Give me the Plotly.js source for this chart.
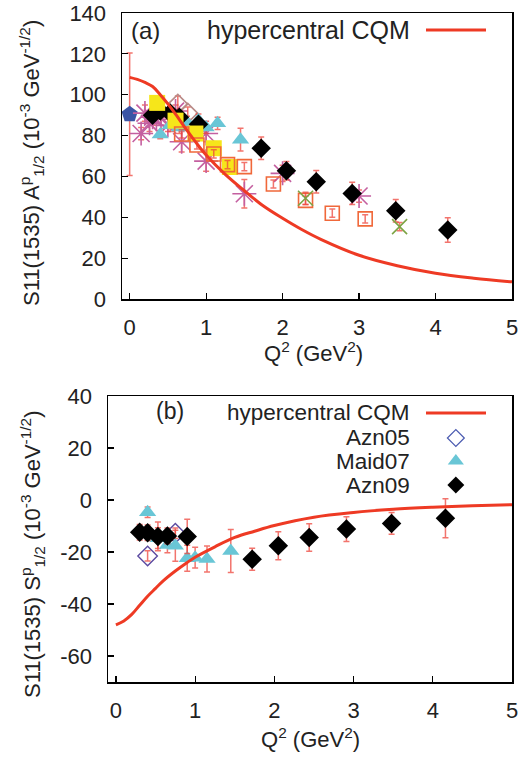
<!DOCTYPE html>
<html>
<head>
<meta charset="utf-8">
<script src="https://cdn.plot.ly/plotly-3.0.1.min.js"></script>
<style>
html,body{margin:0;padding:0;background:#fff;}
#chart{width:522px;height:757px;}
</style>
</head>
<body>
<div id="chart"></div>
<script>
// ---------- Panel (a): A_1/2 ----------
const cqmA_x = [0, 0.1, 0.2, 0.3, 0.4, 0.5, 0.6, 0.75, 0.9, 1.0, 1.25, 1.5, 1.75, 2.0, 2.25, 2.5, 3.0, 3.5, 4.0, 4.5, 5.0];
const cqmA_y = [108.5, 107.5, 106, 104, 100, 95.5, 90.5, 82.5, 75, 70.5, 61, 53, 45.5, 39.5, 34, 29.2, 21.4, 16.3, 12.6, 10.2, 8.4];

const pdgA_x = [0];
const pdgA_y = [90.4];
const pdgA_e = [30];

const starA_x = [0.15, 0.2, 0.26, 0.3, 0.35, 0.41, 0.5, 0.6, 0.68, 1.0, 1.0, 1.5, 2.0, 3.0];
const starA_y = [81, 91, 86, 89, 88, 89, 85, 92, 77, 81, 67.5, 51.5, 61.5, 50.4];
const starA_e = [3, 4, 4, 3, 3, 4, 3, 3, 5, 4, 5, 7, 4, 3];

const azn05A_x = [0.63, 0.76];
const azn05A_y = [95.4, 91];
const azn05A_e = [4, 3];

const maid07A_x = [0.4, 0.53, 0.65, 0.75, 0.9, 1.0, 1.15, 1.45];
const maid07A_y = [80.5, 85, 84, 86.5, 87.5, 84, 86, 78];
const maid07A_e = [2, 3, 3, 3, 3, 3, 3, 5.6];

const azn09A_x = [0.3, 0.4, 0.53, 0.65, 0.9, 1.72, 2.05, 2.44, 2.91, 3.48, 4.16];
const azn09A_y = [90, 92, 91, 89, 85.5, 73.8, 62.8, 57.4, 51.7, 43.2, 33.8];
const azn09A_e = [3, 3, 3, 3, 3, 5.5, 4.5, 5.5, 5.5, 5.5, 6];

const yellowA_x = [0.36, 0.6, 0.86, 1.1, 1.31];
const yellowA_y = [96, 87.3, 81, 73.8, 64.6];

const orangeA_x = [0.68, 0.88, 1.1, 1.28, 1.5, 1.88, 2.3, 2.65, 3.08];
const orangeA_y = [80.8, 75.4, 71, 65.8, 64.8, 56.3, 48.3, 42, 39.2];
const orangeA_e = [2, 2, 2, 2, 2, 2, 2, 2, 2];

const greenA_x = [2.3, 3.53];
const greenA_y = [49.3, 35.4];
const greenA_e = [3, 2];

// ---------- Panel (b): S_1/2 ----------
const cqmS_x = [0, 0.1, 0.2, 0.3, 0.4, 0.5, 0.6, 0.75, 0.9, 1.0, 1.25, 1.5, 1.75, 2.0, 2.5, 3.0, 3.5, 4.0, 4.5, 5.0];
const cqmS_y = [-48, -46.5, -44, -40.5, -37, -34, -31, -27.3, -24, -22, -18, -14.4, -12, -9.8, -6.6, -4.8, -3.6, -2.8, -2.2, -1.8];

const azn05S_x = [0.4, 0.75];
const azn05S_y = [-21.5, -12.8];
const azn05S_e = [2, 2];

const maid07S_x = [0.4, 0.53, 0.65, 0.75, 0.9, 1.0, 1.15, 1.45];
const maid07S_y = [-4.7, -14.7, -17.3, -17.6, -22.4, -22.2, -22.7, -19.6];
const maid07S_e = [2, 4, 3, 6, 5, 4, 5, 8.3];

const azn09S_x = [0.3, 0.4, 0.53, 0.65, 0.9, 1.72, 2.05, 2.44, 2.91, 3.48, 4.16];
const azn09S_y = [-12.4, -12.6, -14, -13.8, -14, -22.8, -17.6, -14.4, -11.2, -9, -7];
const azn09S_e = [3, 3, 5.5, 3, 6.6, 4.2, 5.4, 5.3, 4.8, 4.2, 7.5];

// ---------- ticks & labels ----------
const xTicks = [0, 1, 2, 3, 4, 5];
const xTickText = ['0', '1', '2', '3', '4', '5'];
const yTicksA = [0, 20, 40, 60, 80, 100, 120, 140];
const yTickTextA = ['0', '20', '40', '60', '80', '100', '120', '140'];
const yTicksS = [-60, -40, -20, 0, 20, 40];
const yTickTextS = ['-60', '-40', '-20', '0', '20', '40'];
const legendNamesB = ['Azn05', 'Maid07', 'Azn09'];
const cqmName = 'hypercentral CQM';

// ---------- style ----------
const FONT = 'Liberation Sans, Arial, Helvetica, sans-serif';
const TXT = '#222';
const ERR = 'rgba(238,70,60,0.75)';
const RED = '#ee3a24';
const W = 522, H = 757;

function err(arr) {
  return {type: 'data', array: arr, visible: true, color: ERR, thickness: 1.5, width: 3};
}
function pts(x, y, e, marker, xa, ya) {
  const t = {x: x, y: y, type: 'scatter', mode: 'markers', marker: marker, showlegend: false,
             xaxis: xa, yaxis: ya, hoverinfo: 'skip'};
  if (e) t.error_y = err(e);
  return t;
}

const traces = [
  // panel (a)
  pts(pdgA_x, pdgA_y, pdgA_e, {symbol: 'pentagon', size: 17, color: '#3b54a5'}, 'x', 'y'),
  pts(starA_x, starA_y, starA_e, {symbol: 'asterisk-open', size: 20, color: '#c45fa0', line: {color: '#c45fa0', width: 1.6}}, 'x', 'y'),
  pts(azn05A_x, azn05A_y, azn05A_e, {symbol: 'diamond-open', size: 15, color: '#b98b88', line: {color: '#b98b88', width: 1.6}}, 'x', 'y'),
  pts(maid07A_x, maid07A_y, maid07A_e, {symbol: 'triangle-up', size: 15, color: '#69c6d6'}, 'x', 'y'),
  pts(azn09A_x, azn09A_y, azn09A_e, {symbol: 'diamond', size: 15, color: '#000'}, 'x', 'y'),
  pts(yellowA_x, yellowA_y, null, {symbol: 'square', size: 16, color: '#f6e61a'}, 'x', 'y'),
  pts(orangeA_x, orangeA_y, orangeA_e, {symbol: 'square-open', size: 14, color: '#f0683a', line: {color: '#f0683a', width: 1.6}}, 'x', 'y'),
  pts(greenA_x, greenA_y, greenA_e, {symbol: 'x-thin-open', size: 15, color: '#7ca444', line: {color: '#7ca444', width: 1.6}}, 'x', 'y'),
  {x: cqmA_x, y: cqmA_y, type: 'scatter', mode: 'lines', line: {color: RED, width: 3, shape: 'spline'},
   showlegend: false, xaxis: 'x', yaxis: 'y', hoverinfo: 'skip'},
  // panel (b)
  pts(azn05S_x, azn05S_y, azn05S_e, {symbol: 'diamond-open', size: 15, color: '#5b4aa0', line: {color: '#5b4aa0', width: 1.4}}, 'x2', 'y2'),
  pts(maid07S_x, maid07S_y, maid07S_e, {symbol: 'triangle-up', size: 15, color: '#69c6d6'}, 'x2', 'y2'),
  pts(azn09S_x, azn09S_y, azn09S_e, {symbol: 'diamond', size: 15, color: '#000'}, 'x2', 'y2'),
  {x: cqmS_x, y: cqmS_y, type: 'scatter', mode: 'lines', line: {color: RED, width: 3, shape: 'spline'},
   showlegend: false, xaxis: 'x2', yaxis: 'y2', hoverinfo: 'skip'},
  // legend samples of panel (b), drawn on a hidden [0,1] key axis
  {x: [0.861], y: [0.853], type: 'scatter', mode: 'markers',
   marker: {symbol: 'diamond-open', size: 13, color: '#4a5ab0', line: {color: '#4a5ab0', width: 1.2}},
   showlegend: false, xaxis: 'x3', yaxis: 'y3', hoverinfo: 'skip'},
  {x: [0.861], y: [0.773], type: 'scatter', mode: 'markers',
   marker: {symbol: 'triangle-up', size: 14, color: '#69c6d6'},
   showlegend: false, xaxis: 'x3', yaxis: 'y3', hoverinfo: 'skip'},
  {x: [0.861], y: [0.689], type: 'scatter', mode: 'markers',
   marker: {symbol: 'diamond', size: 13, color: '#000'},
   showlegend: false, xaxis: 'x3', yaxis: 'y3', hoverinfo: 'skip'}
];

const domA_x = [122 / W, 512 / W], domA_y = [1 - 299 / H, 1 - 13 / H];
const domB_x = [108 / W, 512 / W], domB_y = [1 - 682 / H, 1 - 396 / H];

function xax(dom, anchor) {
  return {domain: dom, anchor: anchor, range: [-0.1, 5], tickvals: xTicks, ticktext: xTickText,
          ticks: 'inside', ticklen: 6, tickwidth: 1.2, tickcolor: '#000', showline: true, mirror: true,
          linecolor: '#000', linewidth: 1.5, showgrid: false, zeroline: false,
          tickfont: {family: FONT, size: 22, color: TXT}, ticklabelstandoff: 8, fixedrange: true};
}
function yax(dom, anchor, range, tv, tt) {
  return {domain: dom, anchor: anchor, range: range, tickvals: tv, ticktext: tt,
          ticks: 'inside', ticklen: 6, tickwidth: 1.2, tickcolor: '#000', showline: true, mirror: true,
          linecolor: '#000', linewidth: 1.5, showgrid: false, zeroline: false,
          tickfont: {family: FONT, size: 22, color: TXT}, ticklabelstandoff: 10, fixedrange: true};
}

function ann(text, xpx, ypx, size, opts) {
  return Object.assign({text: text, x: xpx / W, y: 1 - ypx / H, xref: 'paper', yref: 'paper',
    showarrow: false, font: {family: FONT, size: size, color: TXT}, xanchor: 'center', yanchor: 'middle'}, opts || {});
}

const layout = {
  width: W, height: H,
  margin: {l: 0, r: 0, t: 0, b: 0},
  paper_bgcolor: '#fff', plot_bgcolor: 'rgba(0,0,0,0)',
  showlegend: false,
  xaxis: xax(domA_x, 'y'),
  yaxis: yax(domA_y, 'x', [0, 140], yTicksA, yTickTextA),
  xaxis2: xax(domB_x, 'y2'),
  yaxis2: yax(domB_y, 'x2', [-70, 40], yTicksS, yTickTextS),
  xaxis3: {domain: domB_x, anchor: 'y3', range: [0, 1], visible: false, fixedrange: true},
  yaxis3: {domain: domB_y, anchor: 'x3', range: [0, 1], visible: false, fixedrange: true},
  shapes: [
    {type: 'line', xref: 'paper', yref: 'paper', x0: 426 / W, x1: 486 / W, y0: 1 - 30 / H, y1: 1 - 30 / H,
     line: {color: RED, width: 3}},
    {type: 'line', xref: 'paper', yref: 'paper', x0: 426 / W, x1: 486 / W, y0: 1 - 413 / H, y1: 1 - 413 / H,
     line: {color: RED, width: 3}}
  ],
  annotations: [
    ann('(a)', 129, 31, 24, {xanchor: 'left'}),
    ann(cqmName, 412, 30, 25, {xanchor: 'right'}),
    ann('(b)', 154, 411, 23, {xanchor: 'left'}),
    ann(cqmName, 412, 412, 22.5, {xanchor: 'right'}),
    ann(legendNamesB[0], 412, 437, 22.5, {xanchor: 'right'}),
    ann(legendNamesB[1], 412, 461, 22.5, {xanchor: 'right'}),
    ann(legendNamesB[2], 412, 485, 22.5, {xanchor: 'right'}),
    ann('Q<sup>2</sup> (GeV<sup>2</sup>)', 313, 352, 22),
    ann('Q<sup>2</sup> (GeV<sup>2</sup>)', 310, 738, 22),
    ann('S11(1535) A<sup>p</sup><sub>1/2</sub> (10<sup>-3</sup> GeV<sup>-1/2</sup>)', 32, 163, 22,
        {textangle: -90}),
    ann('S11(1535) S<sup>p</sup><sub>1/2</sub> (10<sup>-3</sup> GeV<sup>-1/2</sup>)', 32, 555, 22,
        {textangle: -90})
  ]
};

Plotly.newPlot('chart', traces, layout, {displayModeBar: false, staticPlot: true});
</script>
</body>
</html>
